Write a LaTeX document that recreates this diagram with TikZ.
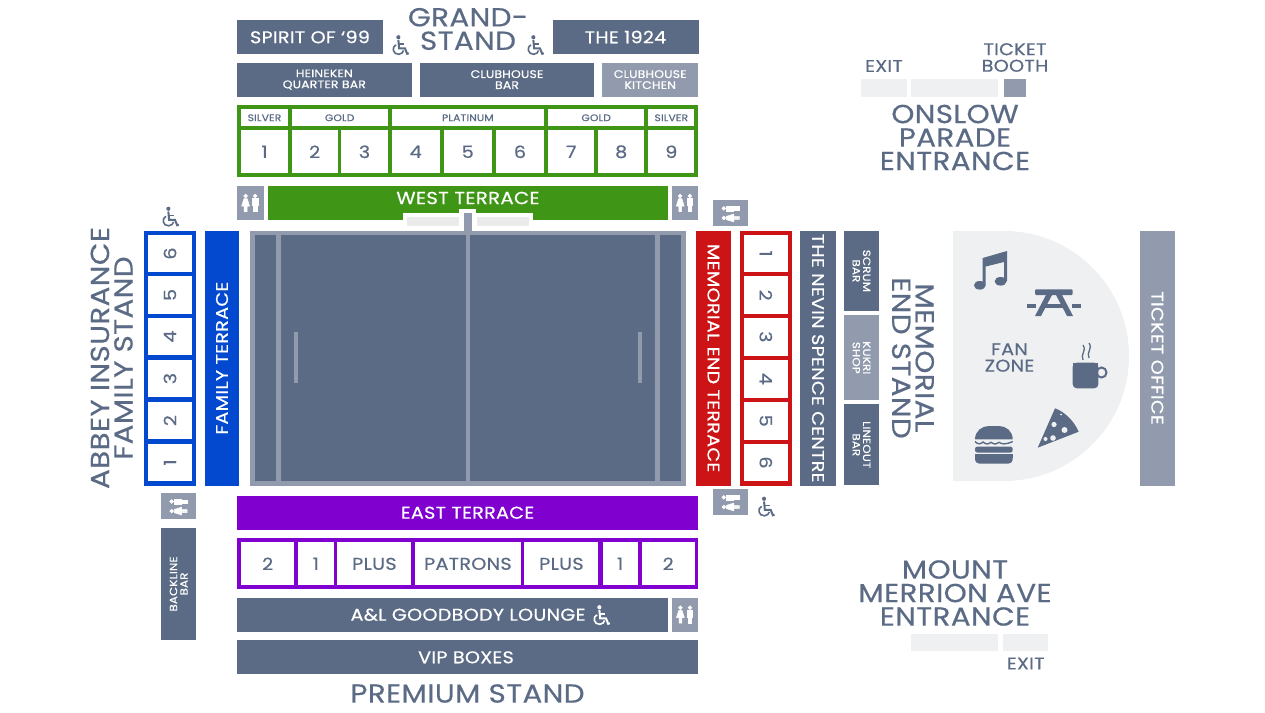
\documentclass[tikz,border=0pt]{standalone}
\usepackage{fontspec}
\setmainfont{Poppins}[FakeStretch=1.13,LetterSpace=1.5,FakeBold=0.5]
\definecolor{slate}{HTML}{5B6B85}
\definecolor{paleslate}{HTML}{929BAD}
\definecolor{fan}{HTML}{EFF0F2}
\definecolor{gate}{HTML}{EBEBEB}
\definecolor{westgreen}{HTML}{3F9516}
\definecolor{familyblue}{HTML}{0249CF}
\definecolor{memred}{HTML}{CC1316}
\definecolor{eastpurple}{HTML}{8000D0}
\tikzset{
  fs/.style={font=\fontsize{#1}{#1}\selectfont},
  plain/.style={inner sep=0, outer sep=0, align=center},
  block/.style={plain, fill=slate, text=white},
  pale/.style={plain, fill=paleslate, text=white},
  seat/.style={plain, fill=white, text=slate},
  heading/.style={plain, text=slate, font=\fontsize{26}{23.5}\selectfont},
  small/.style={plain, text=slate, font=\fontsize{17}{16.5}\selectfont},
  wheelchair/.pic={
    \draw[line width=1.6] (-3.6,-0.6) .. controls (-8,1) and (-6.5,8.5) .. (-1,8) .. controls (1.5,7.8) and (3,6) .. (3.2,4.5);
    \fill (-1.5,-7.5) circle (1.9);
    \draw[line width=2] (-1.5,-5) -- (-0.8,2.5) -- (4.5,2.5) -- (6.5,7.5) -- (8,7);
    \draw[line width=1.6] (-1.2,-1.2) -- (4,-1.2);
  },
  toiletpair/.pic={
    \filldraw[line width=0.5] (-4.8,-7) circle (1.9);
    \filldraw[line width=0.5] (-6.4,-4.4) -- (-3.2,-4.4) -- (-0.9,3) -- (-3.4,3) -- (-3.4,8.5) -- (-4.5,8.5) -- (-4.5,3.4) -- (-5.1,3.4) -- (-5.1,8.5) -- (-6.2,8.5) -- (-6.2,3) -- (-8.7,3) -- cycle;
    \filldraw[line width=0.5] (4.8,-7) circle (1.9);
    \filldraw[line width=0.5] (2.2,-4.4) rectangle (7.4,2.5);
    \filldraw[line width=0.5] (3.1,1) rectangle (4.5,8.5);
    \filldraw[line width=0.5] (5.1,1) rectangle (6.5,8.5);
  }
}
\begin{document}
\begin{tikzpicture}[x=1pt,y=-1pt]
\useasboundingbox (0,0) rectangle (1265,712);

% grandstand
\node[block, fs=17, minimum width=146, minimum height=34] (spirit) at (310,37) {SPIRIT OF ‘99};
\node[block, fs=17, minimum width=146, minimum height=34] (nineteen) at (625.5,37) {THE 1924};
\node[heading] (grand) at (468,29) {GRAND-\\STAND};
\pic[slate, scale=1.1] at (400,45.5) {wheelchair};
\pic[slate, scale=1.1] at (535,45.5) {wheelchair};
\node[block, fs=11, minimum width=174.5, minimum height=34] (heineken) at (324.3,79.6) {HEINEKEN\\QUARTER BAR};
\node[block, fs=11, minimum width=174.5, minimum height=34] (clubbar) at (507,79.6) {CLUBHOUSE\\BAR};
\node[pale, fs=11, minimum width=95.7, minimum height=34] (kitchen) at (650.2,79.6) {CLUBHOUSE\\KITCHEN};

% west stand seats
\node[plain, fill=westgreen, minimum width=461, minimum height=72.3] (westframe) at (467.5,141.2) {};
\foreach \n/\x/\w/\t in {a/264.5/46.4/SILVER,b/339.7/96/GOLD,c/467.8/152.3/PLATINUM,d/596.2/96.3/GOLD,e/671.3/46/SILVER}
\node[seat, fs=9.5, minimum width=\w, minimum height=17] (tier\n) at (\x,117.8) {\t};
\foreach \n/\x/\w in {1/264.5/46.4,2/314.7/46,3/364.5/46.4,4/415.7/48,5/467.7/48,6/520/48,7/571.2/46.3,8/621.2/46.3,9/671.3/46}
\node[seat, fs=17, minimum width=\w, minimum height=43] (west\n) at (\x,151.8) {\n};

% west terrace
\node[pale, minimum width=26.7, minimum height=34.3] (loowl) at (250.4,202.9) {};
\node[pale, minimum width=26, minimum height=34.3] (loowr) at (685,202.9) {};
\pic[white] at (250.4,203) {toiletpair};
\pic[white] at (685,203) {toiletpair};
\node[plain, fill=westgreen, minimum width=400.3, minimum height=34.3] (westterrace) at (467.8,202.9) {};
\fill[white] (402.7,213.3) rectangle (532.7,220.2);
\fill[white] (459.3,209.3) rectangle (476,220.2);
\node[plain, text=white, fs=17.5] (westlabel) at (468,198) {WEST TERRACE};
\fill[gate] (406.7,217.3) rectangle (459.3,226);
\fill[gate] (476.7,217.3) rectangle (528.7,226);

% pitch
\fill[paleslate] (250,230.7) rectangle (686,485.5);
\fill[slate] (254.6,234.5) rectangle (681.4,481.4);
\fill[paleslate] (463.7,213.3) rectangle (471.7,234.5);
\foreach \x in {276.4,465.8,655.4}
\fill[paleslate] (\x,234.5) rectangle (\x+4.3,481.4);
\foreach \x in {293.7,637.7}
\fill[paleslate] (\x,332.2) rectangle (\x+4.6,383.3);

% family stand
\node[heading, rotate=90] (abbey) at (111.7,358) {ABBEY INSURANCE\\FAMILY STAND};
\pic[slate, scale=1.1] at (170,217) {wheelchair};
\node[plain, fill=familyblue, minimum width=52.3, minimum height=254.8] (familyframe) at (169.9,358.1) {};
\foreach \n/\y in {6/253.5,5/295,4/336.6,3/378.6,2/420.6,1/462.5}
\node[seat, fs=17, rotate=90, minimum width=37.6, minimum height=44] (family\n) at (170,\y) {\n};
\node[plain, fill=familyblue, text=white, fs=17, rotate=90, minimum width=254.8, minimum height=34.7] (familyterrace) at (222,358.1) {FAMILY TERRACE};
\node[pale, minimum width=34.7, minimum height=26] (loofam) at (178.7,506.3) {};
\pic[white, rotate=90] at (178.7,506.3) {toiletpair};
\node[block, fs=10.5, rotate=90, minimum width=112.6, minimum height=34.7] (backline) at (178.7,584) {BACKLINE\\BAR};

% memorial end
\node[plain, fill=memred, text=white, fs=17, rotate=-90, minimum width=254.8, minimum height=35] (memterrace) at (713.5,358.1) {MEMORIAL END TERRACE};
\node[pale, minimum width=35, minimum height=25.7] (loomemt) at (730.8,213.2) {};
\pic[white, rotate=90] at (730.8,213.2) {toiletpair};
\node[pale, minimum width=35, minimum height=25.7] (loomemb) at (730.8,502.2) {};
\pic[white, rotate=90] at (730.8,502.2) {toiletpair};
\pic[slate, scale=1.1] at (765.7,507) {wheelchair};
\node[plain, fill=memred, minimum width=52.3, minimum height=254.8] (memframe) at (765.8,358.1) {};
\foreach \n/\y in {1/253.5,2/295.2,3/336.8,4/378.8,5/420.7,6/462.5}
\node[seat, fs=17, rotate=-90, minimum width=37.6, minimum height=44.3] (mem\n) at (765.8,\y) {\n};
\node[block, fs=17, rotate=-90, minimum width=254.8, minimum height=35.4] (nevin) at (818,358.1) {THE NEVIN SPENCE CENTRE};
\node[block, fs=10.5, rotate=-90, minimum width=80.3, minimum height=35] (scrum) at (861.5,270.9) {SCRUM\\BAR};
\node[pale, fs=10.5, rotate=-90, minimum width=85, minimum height=35] (kukri) at (861.5,357.8) {KUKRI\\SHOP};
\node[block, fs=10.5, rotate=-90, minimum width=81, minimum height=35] (lineout) at (861.5,444.8) {LINEOUT\\BAR};
\node[heading, rotate=-90] (memstand) at (913,358) {MEMORIAL\\END STAND};

% fan zone
\fill[fan] (953,231) -- (1004,231) .. controls (1073,231) and (1129,287) .. (1129,356) .. controls (1129,425) and (1073,481) .. (1004,481) -- (953,481) -- cycle;
\node[small] (fanzone) at (1009.5,357.5) {FAN\\ZONE};
% note
\fill[slate] (982.7,258) -- (1007,251) -- (1007,281) -- (1004,281) -- (1004,262) -- (985.7,266.5) -- (985.7,285) -- (982.7,285) -- cycle;
\fill[slate] (979.8,285.3) ellipse (5.9 and 4.3);
\fill[slate] (1000.6,281.3) ellipse (6 and 4.3);
% table
\fill[slate, rounded corners=1] (1035,289.3) rectangle (1072.7,295);
\fill[slate] (1026.7,304) rectangle (1036,308);
\fill[slate] (1072,304) rectangle (1081.3,308);
\fill[slate] (1041,304) rectangle (1067,308);
\fill[slate] (1046,295) -- (1052,295) -- (1041,316) -- (1035,316) -- cycle;
\fill[slate] (1056,295) -- (1062,295) -- (1073,316) -- (1067,316) -- cycle;
% coffee
\fill[slate, rounded corners=4] (1072.7,362.7) -- (1098.3,362.7) -- (1098.3,388.3) -- (1072.7,388.3) -- cycle;
\fill[slate] (1072.7,362.7) rectangle (1098.3,368);
\draw[slate, line width=2] (1101.5,372.5) circle (5);
\draw[slate, line width=1.3] (1083,360) .. controls (1080,354) and (1087,351) .. (1083,345);
\draw[slate, line width=1.3] (1089,358) .. controls (1086,352) and (1093,349) .. (1089,343);
% pizza
\fill[slate] (1037.7,447.7) -- (1055,408.3) .. controls (1065,412) and (1074,421) .. (1078.7,431.7) -- cycle;
\foreach \x/\y/\r in {1054/424.5/2.6,1064.5/430/3,1053/438/2.8,1045.5/439/2,1061/414.5/1}
\fill[fan] (\x,\y) circle (\r);
% burger
\fill[slate] (975,439.3) .. controls (975,431) and (982,426) .. (989,426) -- (999,426) .. controls (1006,426) and (1012.7,431) .. (1012.7,439.3) -- cycle;
\draw[slate, line width=1.4] (975,441.5) .. controls (978,444.5) and (980,444.5) .. (983,442) .. controls (986,444.5) and (988,444.5) .. (991,442.3) .. controls (994,444.5) and (996,444.5) .. (999,442.3) .. controls (1002,444.5) and (1006,444.5) .. (1012.7,441.5);
\fill[slate, rounded corners=2.5] (975,446.5) rectangle (1012.7,452.7);
\fill[slate, rounded corners=4] (975,454) rectangle (1012.7,463.5);
\fill[slate] (975,454) rectangle (1012.7,458);

\node[pale, fs=17, rotate=-90, minimum width=254.8, minimum height=34.7] (ticketoffice) at (1157.3,358.1) {TICKET OFFICE};

% onslow parade
\node[small] (exitn) at (884,66) {EXIT};
\node[small] (booth) at (1015,57.5) {TICKET\\BOOTH};
\node[plain, fill=fan, minimum width=46.3, minimum height=17.4] (gatea) at (883.8,88) {};
\node[plain, fill=fan, minimum width=86.7, minimum height=17.4] (gateb) at (954.7,88) {};
\node[pale, minimum width=22, minimum height=17.4] (boothbox) at (1014.7,88) {};
\node[heading] (onslow) at (955,137.5) {ONSLOW\\PARADE\\ENTRANCE};

% east stand
\node[plain, fill=eastpurple, text=white, fs=17, minimum width=461, minimum height=34] (eastterrace) at (467.5,512.7) {EAST TERRACE};
\node[plain, fill=eastpurple, minimum width=461, minimum height=51] (eastframe) at (467.5,563.8) {};
\foreach \n/\x/\w/\t in {a/267.7/53/2,b/315.8/35.5/1,c/374.4/74/PLUS,d/467.9/105.2/PATRONS,e/561.4/74/PLUS,f/620.1/35.1/1,g/668.2/53.3/2}
\node[seat, fs=17, minimum width=\w, minimum height=43] (east\n) at (\x,563.8) {\t};
\node[block, minimum width=431.2, minimum height=34] (goodbody) at (452.6,614.7) {};
\node[plain, text=white, fs=17] (goodbodytext) at (468,614.7) {A\&L GOODBODY LOUNGE};
\pic[white, scale=1.1] at (601,615.5) {wheelchair};
\node[pale, minimum width=25.5, minimum height=34] (loogood) at (685.2,614.7) {};
\pic[white] at (685.2,614.7) {toiletpair};
\node[block, minimum width=461, minimum height=34] (vip) at (467.5,657.3) {};
\node[plain, text=white, fs=17] (viptext) at (466,657.3) {VIP BOXES};
\node[heading] (premium) at (467.5,693.5) {PREMIUM STAND};

% mount merrion
\node[heading] (mount) at (955,593) {MOUNT\\MERRION AVE\\ENTRANCE};
\node[plain, fill=fan, minimum width=87, minimum height=17] (gatec) at (954.8,642.5) {};
\node[plain, fill=fan, minimum width=45.6, minimum height=17] (gated) at (1025.5,642.5) {};
\node[small] (exits) at (1025.7,663.5) {EXIT};
\end{tikzpicture}
\end{document}
